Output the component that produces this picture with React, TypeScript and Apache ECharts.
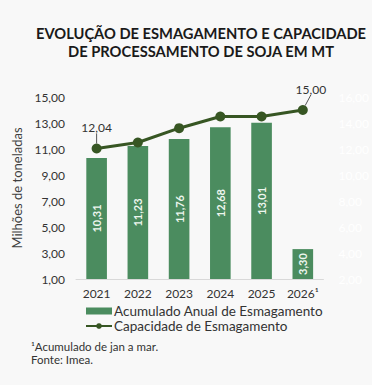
import React, { useEffect, useRef } from "react";
import * as echarts from "echarts";

const categories = ["2021", "2022", "2023", "2024", "2025", "2026¹"];
const crushing = [10.31, 11.23, 11.76, 12.68, 13.01, 3.3];
const capacity = [12.04, 12.5, 13.6, 14.5, 14.5, 15.0];
const labelledCapacity = [0, 5];
const titleText = "EVOLUÇÃO DE ESMAGAMENTO E CAPACIDADE\nDE PROCESSAMENTO DE SOJA EM MT";
const footnotes = ["¹Acumulado de jan a mar.", "Fonte: Imea."];

const FONT = "Lato, 'Open Sans', sans-serif";
const fmt = (v: number) => v.toFixed(2).replace(".", ",");

export default function App() {
  const ref = useRef<HTMLDivElement>(null);
  useEffect(() => {
    document.body.style.margin = "0";
    document.body.style.background = "#f8f8f8";
    const chart = echarts.init(ref.current!, undefined, { renderer: "svg" });
    chart.setOption({
      animation: false,
      backgroundColor: "#f8f8f8",
      textStyle: { fontFamily: FONT },
      title: {
        text: titleText,
        left: 196,
        textAlign: "center",
        top: 19,
        textStyle: { fontSize: 14.7, fontWeight: "bold", color: "#1a1a1a", lineHeight: 18, fontFamily: FONT },
      },
      grid: { left: 76, right: 41, top: 97, bottom: 106 },
      legend: {
        orient: "vertical",
        left: 85,
        top: 304,
        padding: 0,
        itemWidth: 26,
        itemHeight: 7,
        itemGap: 1,
        textStyle: { fontSize: 13.5, color: "#333", fontFamily: FONT, padding: [0, 0, 0, -3] },
        data: [
          { name: "Acumulado Anual de Esmagamento", icon: "rect" },
          { name: "Capacidade de Esmagamento" },
        ],
      },
      xAxis: {
        type: "category",
        data: categories,
        axisLine: { lineStyle: { color: "#d9d9d9" } },
        axisTick: { show: false },
        axisLabel: { interval: 0, color: "#333", fontSize: 12, margin: 8, fontFamily: FONT },
      },
      yAxis: [
        {
          type: "value",
          min: 1,
          max: 15,
          interval: 2,
          name: "Milhões de toneladas",
          nameLocation: "middle",
          nameGap: 43,
          nameTextStyle: { fontSize: 13, color: "#404040", fontFamily: FONT },
          splitLine: { show: false },
          axisLine: { show: false },
          axisTick: { show: false },
          axisLabel: { formatter: (v: number) => fmt(v), color: "#333", fontSize: 12, margin: 11, fontFamily: FONT },
        },
        {
          type: "value",
          min: 2,
          max: 16,
          interval: 2,
          position: "right",
          splitLine: { show: false },
          axisLine: { show: false },
          axisTick: { show: false },
          axisLabel: { formatter: (v: number) => fmt(v), color: "#ffffff", fontSize: 12, margin: 15, fontFamily: FONT },
        },
      ],
      series: [
        {
          name: "Acumulado Anual de Esmagamento",
          type: "bar",
          data: crushing,
          barWidth: "50%",
          itemStyle: { color: "#4b8c5f" },
          label: {
            show: true,
            position: "inside",
            rotate: 90,
            color: "#eef6ee",
            fontWeight: "bold",
            fontSize: 11,
            fontFamily: FONT,
            formatter: (p: any) => fmt(p.value),
          },
        },
        {
          name: "Capacidade de Esmagamento",
          type: "line",
          yAxisIndex: 1,
          data: capacity.map((v, i) => ({
            value: v,
            label: { show: labelledCapacity.includes(i) },
            labelLine: { show: labelledCapacity.includes(i) },
          })),
          symbol: "circle",
          symbolSize: 10,
          lineStyle: { color: "#375623", width: 3 },
          itemStyle: { color: "#375623" },
          label: {
            show: false,
            position: "top",
            distance: 4,
            color: "#333",
            fontSize: 12,
            fontFamily: FONT,
            formatter: (p: any) => fmt(p.value),
          },
          labelLine: { show: false, lineStyle: { color: "#555", width: 1 } },
          labelLayout: (p: any) => (p.dataIndex === 5 ? { dx: 8, dy: -6 } : { dy: -6 }),
        },
      ],
      graphic: footnotes.map((t, i) => ({
        type: "text",
        left: 31,
        top: 340 + i * 13,
        style: { text: t, fontSize: 11.5, fill: "#333", fontFamily: FONT },
      })),
    });
    return () => chart.dispose();
  }, []);
  return <div ref={ref} style={{ width: 372, height: 385 }} />;
}
